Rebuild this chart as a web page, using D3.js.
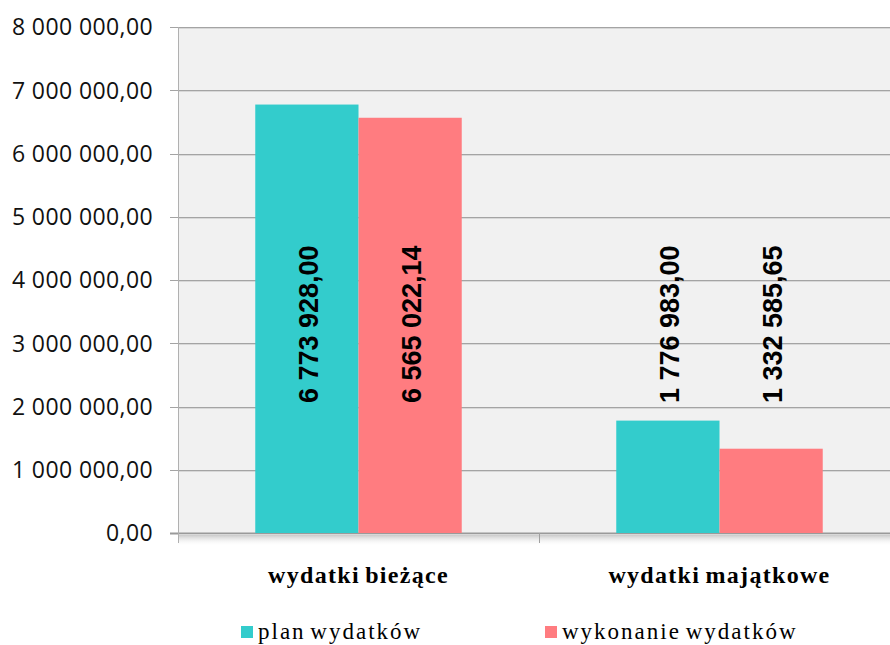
<!DOCTYPE html>
<html>
<head>
<meta charset="utf-8">
<script src="https://cdn.jsdelivr.net/npm/d3@7"></script>
<style>
  body { margin: 0; background: #fff; }
  svg { display: block; }
</style>
</head>
<body>
<div id="chart"></div>
<script>
// data
const categories = ["wydatki bieżące", "wydatki majątkowe"];
const seriesNames = ["plan wydatków", "wykonanie wydatków"];
const planValues = [6773928.00, 1776983.00];
const wykonanieValues = [6565022.14, 1332585.65];
const yTicks = [0, 1000000, 2000000, 3000000, 4000000, 5000000, 6000000, 7000000, 8000000];

const colors = ["#33CCCC", "#FF7C80"];

const width = 890, height = 645;
const margin = {top: 27, right: -10, bottom: 112, left: 178};
const plotW = width - margin.left - margin.right;
const plotH = height - margin.top - margin.bottom;

const svg = d3.select("#chart").append("svg")
    .attr("width", width)
    .attr("height", height);

const defs = svg.append("defs");
const shade = defs.append("linearGradient")
    .attr("id", "shade")
    .attr("x1", "0%").attr("y1", "0%")
    .attr("x2", "0%").attr("y2", "100%");
shade.append("stop").attr("offset", "0%").attr("stop-color", "#b8b8b8").attr("stop-opacity", 0.9);
shade.append("stop").attr("offset", "100%").attr("stop-color", "#ffffff").attr("stop-opacity", 0);

const g = svg.append("g")
    .attr("transform", "translate(" + margin.left + "," + margin.top + ")");

const y = d3.scaleLinear().domain([0, 8000000]).range([plotH, 0]);
const x0 = d3.scaleBand().domain(categories).range([0, plotW]);
const x1 = d3.scaleBand().domain(seriesNames)
    .range([x0.bandwidth() * 0.214, x0.bandwidth() * 0.786]);

const fmt = v => {
    let s = v.toFixed(2).split(".");
    return s[0].replace(/\B(?=(\d{3})+(?!\d))/g, " ") + "," + s[1];
};

// plot background
g.append("rect")
    .attr("width", plotW)
    .attr("height", plotH)
    .attr("fill", "#f1f1f1");

// shadow under the x axis
g.append("rect")
    .attr("x", 0)
    .attr("y", plotH + 1)
    .attr("width", plotW)
    .attr("height", 12)
    .attr("fill", "url(#shade)");

// gridlines
yTicks.forEach(t => {
    g.append("line")
        .attr("x1", -8).attr("x2", plotW)
        .attr("y1", Math.round(y(t)) + 0.5).attr("y2", Math.round(y(t)) + 0.5)
        .attr("stroke", t === 0 ? "#9a9a9a" : "#a4a4a4")
        .attr("stroke-width", t === 0 ? 2 : 1);
    g.append("line")
        .attr("x1", 0).attr("x2", plotW)
        .attr("y1", Math.round(y(t)) + 1.5).attr("y2", Math.round(y(t)) + 1.5)
        .attr("stroke", "#d8d8d8");
});

// y axis line
g.append("line")
    .attr("x1", 0.5).attr("x2", 0.5)
    .attr("y1", 0).attr("y2", plotH + 10)
    .attr("stroke", "#b0b0b0");

// category separator tick
g.append("line")
    .attr("x1", x0.bandwidth() + 0.5).attr("x2", x0.bandwidth() + 0.5)
    .attr("y1", plotH).attr("y2", plotH + 10)
    .attr("stroke", "#a0a0a0");

// y tick labels
g.selectAll(".ylab")
    .data(yTicks)
    .enter().append("text")
    .attr("class", "ylab")
    .attr("x", -25)
    .attr("y", d => y(d))
    .attr("dy", "0.36em")
    .attr("text-anchor", "end")
    .attr("font-family", "Open Sans")
    .attr("font-size", 23)
    .attr("letter-spacing", 0.4)
    .attr("fill", "#111")
    .text(d => fmt(d));

// bars
const rows = categories.map((c, i) => ({
    cat: c,
    vals: [{s: seriesNames[0], v: planValues[i]}, {s: seriesNames[1], v: wykonanieValues[i]}]
}));

const grp = g.selectAll(".cat")
    .data(rows)
    .enter().append("g")
    .attr("transform", d => "translate(" + x0(d.cat) + ",0)");

grp.selectAll("rect")
    .data(d => d.vals)
    .enter().append("rect")
    .attr("x", d => x1(d.s))
    .attr("y", d => y(d.v))
    .attr("width", x1.bandwidth())
    .attr("height", d => plotH - y(d.v))
    .attr("fill", (d, i) => colors[i]);

// value labels (all placed at same height)
const labelLevel = 3300000;
grp.selectAll(".vlab")
    .data(d => d.vals)
    .enter().append("text")
    .attr("class", "vlab")
    .attr("transform", d => "translate(" + (x1(d.s) + x1.bandwidth() / 2 + 2) + "," + y(labelLevel) + ") rotate(-90)")
    .attr("text-anchor", "middle")
    .attr("dominant-baseline", "central")
    .attr("font-family", "Liberation Sans")
    .attr("font-weight", "bold")
    .attr("font-size", 27)
    .attr("fill", "#000")
    .text(d => fmt(d.v));

// category labels
g.selectAll(".clab")
    .data(categories)
    .enter().append("text")
    .attr("class", "clab")
    .attr("x", d => x0(d) + x0.bandwidth() / 2)
    .attr("y", plotH + 50)
    .attr("text-anchor", "middle")
    .attr("font-family", "Liberation Serif")
    .attr("font-weight", "bold")
    .attr("font-size", 24)
    .attr("letter-spacing", 1.3)
    .attr("word-spacing", -2)
    .attr("fill", "#000")
    .text(d => d);

// legend
const legX = [241, 545];
const leg = svg.selectAll(".leg")
    .data(seriesNames)
    .enter().append("g")
    .attr("transform", (d, i) => "translate(" + legX[i] + ",626)");
leg.append("rect")
    .attr("width", 12).attr("height", 12)
    .attr("fill", (d, i) => colors[i]);
leg.append("text")
    .attr("x", 17)
    .attr("y", 13)
    .attr("font-family", "Liberation Serif")
    .attr("font-size", 23)
    .attr("letter-spacing", 2)
    .attr("word-spacing", -3)
    .attr("fill", "#000")
    .text(d => d);
</script>
</body>
</html>
